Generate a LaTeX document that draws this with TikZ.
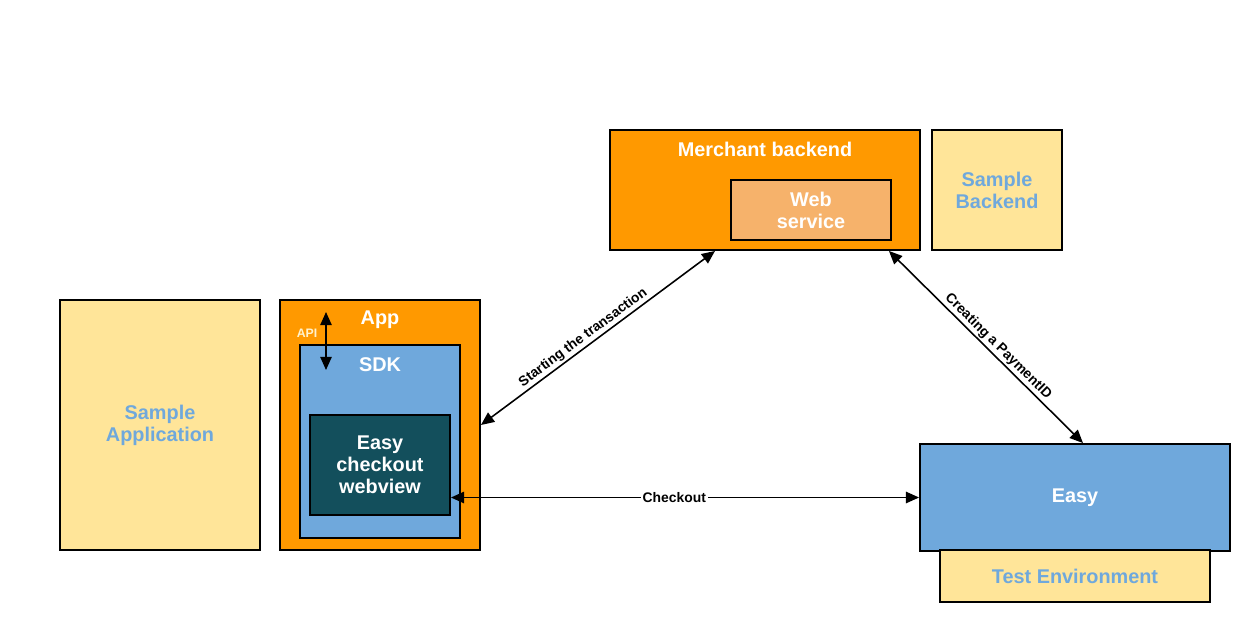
\documentclass[tikz,border=0pt]{standalone}
\usepackage{fontspec}
\setmainfont{Liberation Sans}
\usetikzlibrary{arrows.meta}
\definecolor{easyorange}{HTML}{FF9900}
\definecolor{easyblue}{HTML}{6FA8DC}
\definecolor{easyyellow}{HTML}{FFE599}
\definecolor{easyteal}{HTML}{134F5C}
\definecolor{easypeach}{HTML}{F6B26B}
\definecolor{easycream}{HTML}{FFF2CC}

\tikzset{
    box/.style={draw, line width=1.1pt, inner sep=0pt, align=center},
    boxtext/.style={font=\bfseries\fontsize{11.3}{12.5}\selectfont, text=white, align=center},
    sampletext/.style={font=\bfseries\fontsize{11.3}{12.5}\selectfont, text=easyblue, align=center},
    edgetext/.style={font=\bfseries\fontsize{7.9}{9}\selectfont, inner sep=1pt},
    link/.style={line width=0.9pt, {Triangle[length=7.5pt,width=6.5pt]}-{Triangle[length=7.5pt,width=6.5pt]}}
}

\begin{document}
\begin{tikzpicture}[x=0.02cm, y=-0.02cm]
    \useasboundingbox (0,0) rectangle (1250,622);

    % Sample application
    \node[box, fill=easyyellow, minimum width=4cm, minimum height=5cm, sampletext] (sampleapp) at (160,425) {Sample\\Application};

    % App with SDK and webview
    \node[box, fill=easyorange, minimum width=4cm, minimum height=5cm] (app) at (380,425) {};
    \node[boxtext] (applabel) at (380,320) {App};
    \node[box, fill=easyblue, minimum width=3.2cm, minimum height=3.86cm] (sdk) at (380,441.5) {};
    \node[boxtext] (sdklabel) at (380,365) {SDK};
    \node[box, fill=easyteal, minimum width=2.8cm, minimum height=2cm, boxtext] (webview) at (380,465) {Easy\\checkout\\webview};

    % API
    \coordinate (apitop) at (326,312);
    \coordinate (apibot) at (326,370);
    \draw[link] (apitop) -- (apibot);
    \node[font=\bfseries\fontsize{7}{8}\selectfont, text=easycream] (apilabel) at (307,333) {API};

    % Merchant backend
    \node[box, fill=easyorange, minimum width=6.2cm, minimum height=2.4cm] (merchant) at (765,190) {};
    \node[boxtext] (merchantlabel) at (765,149) {Merchant backend};
    \node[box, fill=easypeach, minimum width=3.2cm, minimum height=1.2cm, boxtext] (websvc) at (811,210) {Web\\service};
    \node[box, fill=easyyellow, minimum width=2.6cm, minimum height=2.4cm, sampletext] (samplebackend) at (997,190) {Sample\\Backend};

    % Easy
    \node[box, fill=easyblue, minimum width=6.2cm, minimum height=2.14cm, boxtext] (easy) at (1075,497.5) {Easy};
    \node[box, line width=0.8pt, fill=easyyellow, minimum width=5.4cm, minimum height=1.04cm, sampletext] (testenv) at (1075,576) {Test Environment};

    % Connections
    \draw[link] (app.east) -- node[edgetext, sloped, above, pos=0.46] {Starting the transaction} ([xshift=-1cm]merchant.south);
    \draw[link] ([xshift=-0.64cm]merchant.south east) -- node[edgetext, sloped, above, pos=0.53] {Creating a PaymentID} ([xshift=0.16cm]easy.north);
    \draw[link] (webview.east |- easy.west) -- node[edgetext, fill=white, pos=0.477] {Checkout} (easy.west);
\end{tikzpicture}
\end{document}
